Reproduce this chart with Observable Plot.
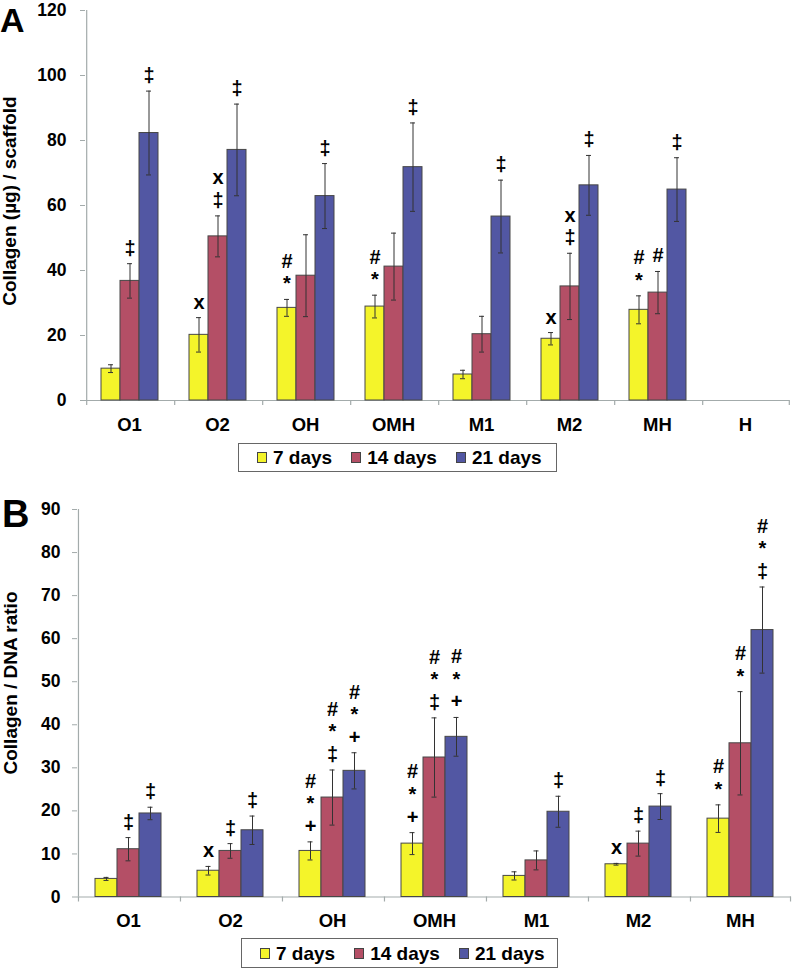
<!DOCTYPE html>
<html><head><meta charset="utf-8">
<script src="https://cdn.jsdelivr.net/npm/d3@7"></script>
<script src="https://cdn.jsdelivr.net/npm/@observablehq/plot@0.6"></script>
<style>
body{margin:0;background:#fff;}
#root{position:relative;width:792px;height:969px;font-family:"Liberation Sans",Arial,sans-serif;font-weight:bold;color:#000;overflow:hidden;}
.ylab{position:absolute;transform:translate(-50%,-50%) rotate(-90deg);white-space:nowrap;font-size:19px;line-height:1;}
.letter{position:absolute;line-height:1;}
.legend{position:absolute;border:1px solid #666;background:#fff;display:flex;align-items:center;font-size:19px;box-sizing:border-box;padding-left:18px;white-space:nowrap;}
.sw{display:inline-block;width:10px;height:11px;border:1px solid #444;box-sizing:border-box;margin-right:6px;flex:none;}
.item{display:flex;align-items:center;margin-right:19px;line-height:1;white-space:nowrap;flex:none;}
</style></head><body><div id="root"></div>
<script>
// ---- data ----
const seriesNames = ["7 days", "14 days", "21 days"];
const seriesColors = ["#f4f42a", "#b44f66", "#5257a3"];

const catsA = ["O1", "O2", "OH", "OMH", "M1", "M2", "MH", "H"];
const d7A  = [9.8, 20.2, 28.5, 28.9, 8.0, 19.0, 27.9, null];
const e7A  = [1.2, 5.3, 2.6, 3.5, 1.3, 1.9, 4.3, null];
const d14A = [36.8, 50.5, 38.4, 41.2, 20.4, 35.1, 33.2, null];
const e14A = [5.3, 6.3, 12.6, 10.3, 5.5, 10.2, 6.5, null];
const d21A = [82.3, 77.1, 62.9, 71.8, 56.6, 66.2, 64.9, null];
const e21A = [12.9, 14.1, 10.0, 13.6, 11.2, 9.2, 9.8, null];
const n7A  = ["", "x", "#\n*", "#\n*", "", "x", "#\n*", ""];
const n14A = ["‡", "x\n‡", "", "", "", "x\n‡", "#", ""];
const n21A = ["‡", "‡", "‡", "‡", "‡", "‡", "‡", ""];
const yTicksA = [0, 20, 40, 60, 80, 100, 120];

const catsB = ["O1", "O2", "OH", "OMH", "M1", "M2", "MH"];
const d7B  = [4.2, 6.1, 10.7, 12.4, 4.9, 7.6, 18.2];
const e7B  = [0.35, 1.0, 2.1, 2.55, 0.95, 0.2, 3.2];
const d14B = [11.1, 10.7, 23.1, 32.4, 8.5, 12.4, 35.7];
const e14B = [2.7, 1.7, 6.4, 9.2, 2.2, 2.9, 12.0];
const d21B = [19.4, 15.5, 29.3, 37.2, 19.8, 21.0, 62.0];
const e21B = [1.45, 3.3, 4.2, 4.5, 3.6, 3.0, 10.0];
const n7B  = ["", "x", "#\n*\n+", "#\n*\n+", "", "x", "#\n*"];
const n14B = ["‡", "‡", "#\n*\n‡", "#\n*\n‡", "", "‡", "#\n*"];
const n21B = ["‡", "‡", "#\n*\n+", "#\n*\n+", "‡", "‡", "#\n*\n‡"];
const yTicksB = [0, 10, 20, 30, 40, 50, 60, 70, 80, 90];

const titleA = "Collagen (µg) / scaffold";
const titleB = "Collagen / DNA ratio";

// ---- build ----
function tidy(cats, vals, errs, notes) {
  const rows = [];
  cats.forEach((c, i) => {
    seriesNames.forEach((s, k) => {
      const v = vals[k][i];
      if (v == null) return;
      rows.push({cat: c, series: s, value: v, err: errs[k][i], note: notes[k][i]});
    });
  });
  return rows;
}
const rowsA = tidy(catsA, [d7A, d14A, d21A], [e7A, e14A, e21A], [n7A, n14A, n21A]);
const rowsB = tidy(catsB, [d7B, d14B, d21B], [e7B, e14B, e21B], [n7B, n14B, n21B]);

const axisColor = "#a3abab";
const font = "'Liberation Sans', Arial, sans-serif";

function panel({cats, rows, yDomain, yTicks, width, height, mt, mb, ml, mr, pad, capInset, tickPadding}) {
  const plotW = width - ml - mr;
  const plotH = height - mt - mb;
  const fw = plotW / cats.length;
  const step = fw / (3 + 2 * pad);
  const edge = step * (pad + 0.5);
  const edgeRows = cats.map(c => ({cat: c, s: seriesNames[0]}));
  return Plot.plot({
    width, height,
    marginTop: mt, marginBottom: mb, marginLeft: ml, marginRight: mr,
    style: {fontFamily: font, fontWeight: "bold", background: "transparent", color: "black", overflow: "visible"},
    fx: {domain: cats, padding: 0, label: null},
    x: {domain: seriesNames, paddingInner: 0, paddingOuter: pad, axis: null},
    y: {domain: yDomain, label: null},
    color: {domain: seriesNames, range: seriesColors},
    marks: [
      Plot.ruleY([0], {stroke: axisColor, strokeWidth: 1.2}),
      Plot.ruleX(edgeRows, {fx: "cat", x: "s", dx: -edge, insetTop: plotH, insetBottom: -5, stroke: axisColor, strokeWidth: 1.2}),
      Plot.ruleX([{cat: cats[cats.length - 1], s: seriesNames[2]}], {fx: "cat", x: "s", dx: edge, insetTop: plotH, insetBottom: -5, stroke: axisColor, strokeWidth: 1.2}),
      Plot.ruleX([{cat: cats[0], s: seriesNames[0]}], {fx: "cat", x: "s", dx: -edge, stroke: axisColor, strokeWidth: 1.2}),
      Plot.axisY({ticks: yTicks, tickSize: 5, tickPadding, fontSize: 17.5, fontWeight: "bold", stroke: axisColor, label: null}),
      Plot.axisFx({anchor: "bottom", tickSize: 0, tickPadding: 17, fontSize: 18.5, fontWeight: "bold", label: null}),
      Plot.barY(rows, {fx: "cat", x: "series", y: "value", fill: "series", stroke: "#474747", strokeWidth: 1}),
      Plot.ruleX(rows, {fx: "cat", x: "series", y1: d => d.value - d.err, y2: d => d.value + d.err, stroke: "#333", strokeWidth: 1}),
      Plot.tickY(rows, {fx: "cat", x: "series", y: d => d.value - d.err, insetLeft: capInset, insetRight: capInset, stroke: "#333", strokeWidth: 1}),
      Plot.tickY(rows, {fx: "cat", x: "series", y: d => d.value + d.err, insetLeft: capInset, insetRight: capInset, stroke: "#333", strokeWidth: 1}),
      Plot.text(rows.filter(d => d.note), {fx: "cat", x: "series", y: d => d.value + d.err, text: "note", lineAnchor: "bottom", dy: -9, fontSize: 20, fontWeight: "bold", lineHeight: 1.13, fill: "black"})
    ]
  });
}

const root = document.getElementById("root");

function place(el, left, top) {
  el.style.position = "absolute";
  el.style.left = left + "px";
  el.style.top = top + "px";
  root.appendChild(el);
  return el;
}

const svgA = panel({cats: catsA, rows: rowsA, yDomain: [0, 120], yTicks: yTicksA, width: 792, height: 440,
  mt: 10, mb: 40, ml: 82, mr: 1, pad: 0.715, capInset: 7, tickPadding: 14});
place(svgA, 0, 0);

const svgB = panel({cats: catsB, rows: rowsB, yDomain: [0, 90], yTicks: yTicksB, width: 792, height: 458,
  mt: 31, mb: 39.5, ml: 77, mr: 1, pad: 0.72, capInset: 8.5, tickPadding: 12});
place(svgB, 0, 478);

function ylab(text, cx, cy) {
  const d = document.createElement("div");
  d.className = "ylab";
  d.textContent = text;
  d.style.left = cx + "px";
  d.style.top = cy + "px";
  root.appendChild(d);
}
ylab(titleA, 9, 201);
ylab(titleB, 10, 683);

function letter(t, left, top, size) {
  const d = document.createElement("div");
  d.className = "letter";
  d.textContent = t;
  d.style.fontSize = size + "px";
  place(d, left, top);
}
letter("A", 0, 2.5, 34);
letter("B", 2, 495, 38);

function legend(left, top, w, h) {
  const d = document.createElement("div");
  d.className = "legend";
  d.style.width = w + "px";
  d.style.height = h + "px";
  seriesNames.forEach((s, i) => {
    const it = document.createElement("div");
    it.className = "item";
    const sw = document.createElement("span");
    sw.className = "sw";
    sw.style.background = seriesColors[i];
    const tx = document.createElement("span");
    tx.textContent = s;
    it.appendChild(sw);
    it.appendChild(tx);
    d.appendChild(it);
  });
  place(d, left, top);
}
legend(238, 443, 319, 29);
legend(241, 938, 317, 30);
</script></body></html>
